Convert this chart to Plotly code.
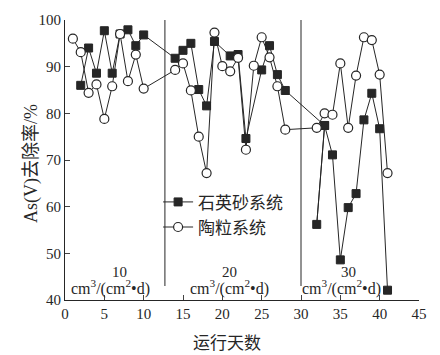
import plotly.graph_objects as go

# 石英砂系统 (filled squares); note the reference line runs 28 -> 33 -> 32 -> 33 -> 34
sand_days = [2, 3, 4, 5, 6, 7, 8, 9, 10,
             14, 15, 16, 17, 18, 19, 21, 22, 23, 25, 26, 27, 28,
             33, 32, 33, 34, 35, 36, 37, 38, 39, 40, 41]
sand_vals = [86, 94, 88.6, 97.7, 88.6, 97, 97.9, 94.5, 96.8,
             91.8, 93.5, 95, 85.1, 81.6, 95.4, 92.3, 92.6, 74.6, 89.3, 94.5, 88.3, 84.9,
             77.4, 56.2, 77.4, 71.1, 48.6, 59.8, 62.8, 78.6, 84.3, 76.7, 42.1]

# 陶粒系统 (open circles)
cer_days = [1, 2, 3, 4, 5, 6, 7, 8, 9, 10,
            14, 15, 16, 17, 18, 19, 20, 21, 22, 23, 24, 25, 26, 27, 28,
            32, 33, 34, 35, 36, 37, 38, 39, 40, 41]
cer_vals = [96, 93.1, 84.4, 86.2, 78.8, 85.8, 97, 86.9, 92.6, 85.3,
            89.3, 90.7, 84.9, 75, 67.2, 97.3, 90.1, 89, 91.9, 72.2, 90.2, 96.3, 92, 85.8, 76.5,
            76.9, 80, 79.7, 90.7, 76.9, 88.1, 96.3, 95.7, 88.3, 67.2]

stage_bounds = [12.7, 30]
stage_rates = ["10", "20", "30"]
stage_label_x = [6.99, 20.97, 36.1]
stage_unit_x = [5.72, 20.97, 35.2]

x_ticks = list(range(0, 46, 5))
y_ticks = list(range(40, 101, 10))

FONT = "Liberation Serif, Noto Sans CJK SC, serif"
INK = "#262626"

fig = go.Figure()
fig.add_trace(go.Scatter(
    x=sand_days, y=sand_vals, mode="lines+markers", name="石英砂系统",
    line=dict(color=INK, width=1),
    marker=dict(symbol="square", size=8, color=INK, line=dict(color=INK, width=1)),
))
fig.add_trace(go.Scatter(
    x=cer_days, y=cer_vals, mode="lines+markers", name="陶粒系统",
    line=dict(color=INK, width=1),
    marker=dict(symbol="circle", size=9, color="white", line=dict(color=INK, width=1.2)),
))

for xb in stage_bounds:
    fig.add_shape(type="line", xref="x", yref="y", x0=xb, x1=xb, y0=43, y1=100,
                  line=dict(color=INK, width=1))

for lx, ux, r in zip(stage_label_x, stage_unit_x, stage_rates):
    fig.add_annotation(x=lx, y=45.9, xref="x", yref="y", text=r, showarrow=False,
                       font=dict(family=FONT, size=15, color=INK))
    fig.add_annotation(x=ux, y=42.7, xref="x", yref="y",
                       text="cm<sup>3</sup>/(cm<sup>2</sup>•d)", showarrow=False,
                       font=dict(family=FONT, size=16, color=INK))

# x-axis title
fig.add_annotation(x=(227 - 65) / 354, y=-44 / 286, xref="paper", yref="paper",
                   text="运行天数", showarrow=False, xanchor="center", yanchor="middle",
                   font=dict(family=FONT, size=17, color=INK))
# y-axis title
fig.add_annotation(x=(32 - 65) / 354, y=(300 - 161) / 286, xref="paper", yref="paper",
                   text="As(V)去除率/%", showarrow=False, textangle=-90,
                   xanchor="center", yanchor="middle",
                   font=dict(family=FONT, size=18, color=INK))

fig.update_layout(
    width=440, height=355,
    margin=dict(l=65, r=21, t=14, b=55),
    paper_bgcolor="white", plot_bgcolor="white",
    font=dict(family=FONT, size=15, color=INK),
    showlegend=True,
    legend=dict(x=0.263, y=0.413, xanchor="left", yanchor="top",
                bgcolor="rgba(0,0,0,0)", font=dict(family=FONT, size=17, color=INK),
                itemwidth=30, tracegroupgap=0),
    xaxis=dict(range=[0, 45], tickvals=x_ticks, ticks="inside", ticklen=5,
               showline=True, linecolor=INK, linewidth=1, showgrid=False, zeroline=False,
               tickfont=dict(family=FONT, size=15, color=INK)),
    yaxis=dict(range=[40, 100], tickvals=y_ticks, ticks="inside", ticklen=5,
               showline=True, linecolor=INK, linewidth=1, showgrid=False, zeroline=False,
               tickfont=dict(family=FONT, size=15, color=INK)),
)

fig.write_html("out.html")
